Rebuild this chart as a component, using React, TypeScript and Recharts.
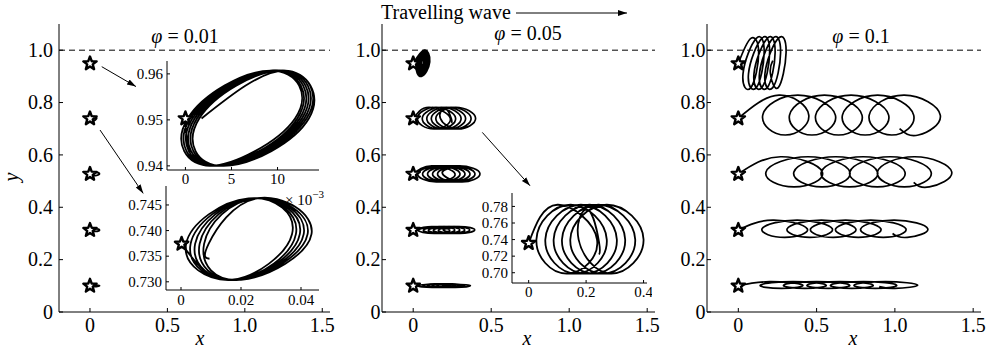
import React from "react";
import { ComposedChart, Line, Scatter, XAxis, YAxis, ReferenceLine } from "recharts";

type Pt = [number, number];

const SERIF = "Liberation Serif";

// tick values
const mainXTicks = [0, 0.5, 1, 1.5];
const mainYTicks = [0, 0.2, 0.4, 0.6, 0.8, 1.0];
const insetAXTicks = [0, 0.005, 0.01];
const insetAYTicks = [0.94, 0.95, 0.96];
const insetBXTicks = [0, 0.02, 0.04];
const insetBYTicks = [0.73, 0.735, 0.74, 0.745];
const insetCXTicks = [0, 0.2, 0.4];
const insetCYTicks = [0.7, 0.72, 0.74, 0.76, 0.78];

// release points (stars)
const startY = [0.949, 0.739, 0.527, 0.313, 0.1];

// phi = 0.01 trajectories
const p1Top: Pt[] = [
  [0, 0.9503], [0.00265, 0.94], [0.0119, 0.9503], [0.00925, 0.9607],
  [0.00025, 0.9503], [0.0029, 0.94], [0.01215, 0.9503], [0.0095, 0.9607],
  [0.0005, 0.9503], [0.00315, 0.94], [0.0124, 0.9503], [0.00975, 0.9607],
  [0.00075, 0.9503], [0.0034, 0.94], [0.01265, 0.9503], [0.01, 0.9607],
  [0.001, 0.9503], [0.00365, 0.94], [0.0129, 0.9503], [0.01025, 0.9607],
  [0.00125, 0.9503], [0.0039, 0.94], [0.01315, 0.9503], [0.0105, 0.9607],
  [0.0015, 0.9503], [0.00415, 0.94], [0.0134, 0.9503], [0.01075, 0.9607],
  [0.00175, 0.9503],
];
const p1Second: Pt[] = [
  [0.0002, 0.7374], [0.017, 0.7304], [0.037, 0.7393], [0.0225, 0.7463],
  [0.0017, 0.7374], [0.0176, 0.7304], [0.0383, 0.7393], [0.0231, 0.7463],
  [0.0032, 0.7374], [0.0182, 0.7304], [0.0396, 0.7393], [0.0237, 0.7463],
  [0.0047, 0.7374], [0.0188, 0.7304], [0.0409, 0.7393], [0.0243, 0.7463],
  [0.0062, 0.7374], [0.0194, 0.7304], [0.0422, 0.7393], [0.0249, 0.7463],
  [0.0077, 0.7374], [0.02, 0.7304], [0.0435, 0.7393], [0.0255, 0.7463],
  [0.0092, 0.7374], [0.0095, 0.7345],
];
const p1Third: Pt[] = [
  [0, 0.527], [0.03, 0.534], [0.06, 0.528], [0.03, 0.521], [0.005, 0.527],
  [0.035, 0.534], [0.062, 0.528], [0.035, 0.521], [0.01, 0.527],
];
const p1Fourth: Pt[] = [
  [0, 0.313], [0.03, 0.318], [0.06, 0.313], [0.03, 0.308], [0.005, 0.313],
  [0.035, 0.318], [0.062, 0.313], [0.035, 0.308], [0.01, 0.313],
];
const p1Fifth: Pt[] = [
  [0, 0.1], [0.03, 0.103], [0.06, 0.1], [0.03, 0.097], [0.005, 0.1],
  [0.035, 0.103], [0.062, 0.1], [0.035, 0.097], [0.01, 0.1],
];

// phi = 0.05
const p2Top: Pt[] = [
  [0, 0.949],
  [0.071, 1.0], [0.106, 0.955], [0.053, 0.9], [0.018, 0.945],
  [0.07, 0.995], [0.1, 0.9545], [0.054, 0.905], [0.024, 0.9455],
  [0.068, 0.99], [0.094, 0.954], [0.056, 0.91], [0.03, 0.946],
  [0.067, 0.985], [0.088, 0.9535], [0.057, 0.915], [0.036, 0.9465],
  [0.066, 0.98], [0.082, 0.953], [0.058, 0.92], [0.042, 0.947],
  [0.065, 0.975], [0.076, 0.9525], [0.059, 0.925], [0.048, 0.9475],
  [0.064, 0.97], [0.071, 0.952], [0.06, 0.93], [0.053, 0.948],
  [0.063, 0.965], [0.067, 0.9515], [0.061, 0.935], [0.057, 0.9485],
];
const p2Second: Pt[] = [
  [0, 0.7356],
  [0.1, 0.782], [0.238, 0.74], [0.132, 0.699], [0.027, 0.74],
  [0.146, 0.782], [0.272, 0.74], [0.165, 0.699], [0.058, 0.74],
  [0.182, 0.782], [0.307, 0.74], [0.197, 0.699], [0.087, 0.74],
  [0.212, 0.782], [0.336, 0.74], [0.226, 0.699], [0.116, 0.74],
  [0.243, 0.782], [0.371, 0.74], [0.258, 0.699], [0.145, 0.74],
  [0.272, 0.782], [0.4, 0.74], [0.287, 0.699], [0.174, 0.74],
  [0.205, 0.776], [0.245, 0.737], [0.245, 0.722],
];
const p2Third: Pt[] = [
  [0, 0.527],
  [0.12, 0.558], [0.268, 0.528], [0.148, 0.497], [0.028, 0.528],
  [0.164, 0.558], [0.3, 0.528], [0.18, 0.497], [0.06, 0.528],
  [0.196, 0.558], [0.332, 0.528], [0.212, 0.497], [0.092, 0.528],
  [0.228, 0.558], [0.364, 0.528], [0.244, 0.497], [0.124, 0.528],
  [0.26, 0.558], [0.396, 0.528], [0.276, 0.497], [0.156, 0.528],
  [0.292, 0.558], [0.428, 0.528], [0.308, 0.497], [0.188, 0.528],
  [0.24, 0.55],
];
const p2Fourth: Pt[] = [
  [0, 0.313],
  [0.12, 0.326], [0.234, 0.313], [0.134, 0.3], [0.034, 0.313],
  [0.166, 0.326], [0.266, 0.313], [0.166, 0.3], [0.066, 0.313],
  [0.198, 0.326], [0.298, 0.313], [0.198, 0.3], [0.098, 0.313],
  [0.23, 0.326], [0.33, 0.313], [0.23, 0.3], [0.13, 0.313],
  [0.262, 0.326], [0.362, 0.313], [0.262, 0.3], [0.162, 0.313],
  [0.294, 0.326], [0.394, 0.313], [0.294, 0.3], [0.194, 0.313],
  [0.24, 0.32],
];
const p2Fifth: Pt[] = [
  [0, 0.1],
  [0.11, 0.106], [0.21, 0.1], [0.12, 0.094], [0.034, 0.1],
  [0.15, 0.106], [0.24, 0.1], [0.15, 0.094], [0.064, 0.1],
  [0.18, 0.106], [0.27, 0.1], [0.18, 0.094], [0.094, 0.1],
  [0.21, 0.106], [0.3, 0.1], [0.21, 0.094], [0.124, 0.1],
  [0.24, 0.106], [0.33, 0.1], [0.24, 0.094], [0.154, 0.1],
  [0.27, 0.106], [0.366, 0.1], [0.27, 0.094], [0.184, 0.1],
];

// phi = 0.1
const p3Top: Pt[] = [
  [0, 0.949],
  [0.08, 1.045], [0.13, 0.99], [0.08, 0.857], [0.03, 0.91],
  [0.115, 1.045], [0.165, 0.99], [0.115, 0.857], [0.065, 0.91],
  [0.15, 1.045], [0.2, 0.99], [0.15, 0.857], [0.1, 0.91],
  [0.185, 1.045], [0.235, 0.99], [0.185, 0.857], [0.135, 0.91],
  [0.22, 1.045], [0.27, 0.99], [0.22, 0.857], [0.17, 0.91],
  [0.255, 1.045], [0.305, 0.99], [0.255, 0.857], [0.205, 0.91],
  [0.22, 0.96],
];
const p3Second: Pt[] = [
  [0, 0.74],
  [0.26, 0.828], [0.45, 0.752], [0.3, 0.676], [0.156, 0.752],
  [0.38, 0.828], [0.62, 0.752], [0.47, 0.676], [0.327, 0.752],
  [0.55, 0.828], [0.79, 0.752], [0.64, 0.676], [0.494, 0.752],
  [0.72, 0.828], [0.96, 0.752], [0.81, 0.676], [0.665, 0.752],
  [0.89, 0.828], [1.12, 0.752], [0.98, 0.676], [0.836, 0.752],
  [1.06, 0.828], [1.29, 0.752], [1.15, 0.676], [1.03, 0.7],
];
const p3Third: Pt[] = [
  [0, 0.527],
  [0.27, 0.593], [0.536, 0.535], [0.356, 0.478], [0.177, 0.535],
  [0.445, 0.593], [0.712, 0.535], [0.534, 0.478], [0.355, 0.535],
  [0.622, 0.593], [0.889, 0.535], [0.71, 0.478], [0.53, 0.535],
  [0.797, 0.593], [1.064, 0.535], [0.888, 0.478], [0.712, 0.535],
  [0.97, 0.593], [1.231, 0.535], [1.06, 0.478], [0.889, 0.535],
  [1.126, 0.593], [1.363, 0.535], [1.22, 0.478], [1.12, 0.495],
];
const p3Fourth: Pt[] = [
  [0, 0.313],
  [0.22, 0.351], [0.44, 0.318], [0.296, 0.285], [0.152, 0.318],
  [0.376, 0.351], [0.6, 0.318], [0.456, 0.285], [0.312, 0.318],
  [0.531, 0.351], [0.75, 0.318], [0.606, 0.285], [0.462, 0.318],
  [0.686, 0.351], [0.91, 0.318], [0.766, 0.285], [0.622, 0.318],
  [0.846, 0.351], [1.07, 0.318], [0.926, 0.285], [0.782, 0.318],
  [0.996, 0.351], [1.21, 0.318], [1.08, 0.285], [0.985, 0.3],
];
const p3Fifth: Pt[] = [
  [0, 0.1],
  [0.2, 0.116], [0.41, 0.103], [0.275, 0.09], [0.141, 0.103],
  [0.35, 0.116], [0.56, 0.103], [0.425, 0.09], [0.29, 0.103],
  [0.5, 0.116], [0.71, 0.103], [0.575, 0.09], [0.44, 0.103],
  [0.65, 0.116], [0.86, 0.103], [0.725, 0.09], [0.59, 0.103],
  [0.8, 0.116], [1.01, 0.103], [0.875, 0.09], [0.74, 0.103],
  [0.94, 0.116], [1.145, 0.103], [1.0, 0.09], [0.9, 0.097],
];

// annotation arrows (data coordinates of each panel)
const p1Arrows: Pt[][] = [
  [[0.076, 0.937], [0.297, 0.861]],
  [[0.065, 0.695], [0.344, 0.453]],
];
const p2Arrows: Pt[][] = [[[0.443, 0.686], [0.749, 0.482]]];

const rows = (p: Pt[]) => p.map(([x, y]) => ({ x, y }));
const mainStars: Pt[] = startY.map((y) => [0, y]);

const fmt1 = (v: number) => (v === 0 ? "0" : v.toFixed(1));

const StarShape = (props: any) => {
  const { cx, cy } = props;
  if (cx == null || cy == null) return null;
  const pts: string[] = [];
  for (let i = 0; i < 10; i++) {
    const r = i % 2 === 0 ? 7 : 2.9;
    const a = -Math.PI / 2 + (i * Math.PI) / 5;
    pts.push(`${cx + r * Math.cos(a)},${cy + r * Math.sin(a)}`);
  }
  return <polygon points={pts.join(" ")} fill="#fff" stroke="#000" strokeWidth={2.4} strokeLinejoin="round" />;
};

const tickText = (fmt: (v: number) => string, size: number, side: "x" | "y") => (props: any) => (
  <text x={props.x} y={props.y} dy={side === "x" ? "0.71em" : "0.34em"}
    textAnchor={side === "x" ? "middle" : "end"}
    style={{ fontFamily: SERIF, fontSize: size }} fill="#000">
    {fmt(props.payload.value)}
  </text>
);

interface PanelProps {
  left: number;
  top: number;
  width: number;
  height: number;
  margin: { top: number; right: number; bottom: number; left: number };
  yWidth: number;
  xHeight: number;
  xDomain: [number, number];
  yDomain: [number, number];
  xTicks: number[];
  yTicks: number[];
  xFmt: (v: number) => string;
  yFmt: (v: number) => string;
  fontSize: number;
  tickLen: number;
  xMargin: number;
  yMargin: number;
  curves: Pt[][];
  lineWidth: number;
  stars?: Pt[];
  arrows?: Pt[][];
  dashed?: boolean;
}

const Panel: React.FC<PanelProps> = (p) => {
  const line = { stroke: "#000", strokeWidth: 1 };
  return (
    <div style={{ position: "absolute", left: p.left, top: p.top, width: p.width, height: p.height }}>
      <ComposedChart width={p.width} height={p.height} margin={p.margin}>
        <XAxis xAxisId="b" type="number" dataKey="x" domain={p.xDomain} allowDataOverflow
          ticks={p.xTicks} interval={0}
          tickSize={-p.tickLen} tickMargin={p.xMargin} height={p.xHeight}
          stroke="#000" axisLine={line} tickLine={line} tick={tickText(p.xFmt, p.fontSize, "x")} />
        <XAxis xAxisId="t" orientation="top" type="number" dataKey="x" domain={p.xDomain} allowDataOverflow
          ticks={p.xTicks} interval={0} tick={false} tickSize={-p.tickLen} height={0}
          stroke="#000" axisLine={line} tickLine={line} />
        <YAxis yAxisId="l" type="number" dataKey="y" domain={p.yDomain} allowDataOverflow
          ticks={p.yTicks} interval={0}
          tickSize={-p.tickLen} tickMargin={p.yMargin} width={p.yWidth}
          stroke="#000" axisLine={line} tickLine={line} tick={tickText(p.yFmt, p.fontSize, "y")} />
        <YAxis yAxisId="r" orientation="right" type="number" dataKey="y" domain={p.yDomain} allowDataOverflow
          ticks={p.yTicks} interval={0} tick={false} tickSize={-p.tickLen} width={0}
          stroke="#000" axisLine={line} tickLine={line} />
        {p.dashed && (
          <ReferenceLine xAxisId="b" yAxisId="l" y={1} stroke="#000" strokeWidth={1} strokeDasharray="6 4" />
        )}
        {p.curves.map((c, i) => (
          <Line key={`c${i}`} xAxisId="b" yAxisId="l" data={rows(c)} dataKey="y" type="natural"
            stroke="#000" strokeWidth={p.lineWidth} dot={false} activeDot={false} isAnimationActive={false} />
        ))}
        {(p.arrows || []).map((a, i) => (
          <Line key={`a${i}`} xAxisId="b" yAxisId="l" data={rows(a)} dataKey="y" type="linear"
            stroke="#000" strokeWidth={1} dot={false} activeDot={false} markerEnd="url(#ah)" isAnimationActive={false} />
        ))}
        {p.stars && (
          <Scatter xAxisId="b" yAxisId="l" data={rows(p.stars)} shape={<StarShape />} isAnimationActive={false} />
        )}
      </ComposedChart>
    </div>
  );
};

const mainCommon = {
  top: 0,
  height: 361,
  yWidth: 42,
  xHeight: 30,
  xDomain: [-0.2, 1.55] as [number, number],
  yDomain: [0, 1.1] as [number, number],
  xTicks: mainXTicks,
  yTicks: mainYTicks,
  xFmt: fmt1,
  yFmt: fmt1,
  fontSize: 20,
  tickLen: 4,
  xMargin: 10,
  yMargin: 5.5,
  lineWidth: 1.7,
  stars: mainStars,
  dashed: true,
};

const insetCommon = {
  xHeight: 18,
  fontSize: 15,
  tickLen: 3,
  lineWidth: 1.8,
  yMargin: 7,
};

export default function App() {
  return (
    <div style={{ position: "absolute", left: 0, top: 0, width: 990, height: 361, background: "#fff", overflow: "hidden", fontFamily: SERIF }}>
      <svg width={990} height={361} style={{ position: "absolute", left: 0, top: 0 }}>
        <text x={285} y={205} style={{ fontFamily: SERIF, fontSize: 15 }} fill="#000">
          × 10<tspan dy={-7} style={{ fontSize: 11 }}>−3</tspan>
        </text>
      </svg>

      <Panel {...mainCommon} left={0} width={340} yWidth={59} yMargin={10}
        margin={{ top: 24, right: 10, bottom: 19, left: 0 }}
        curves={[p1Top, p1Second, p1Third, p1Fourth, p1Fifth]} arrows={p1Arrows} />
      <Panel {...mainCommon} left={340} width={325}
        margin={{ top: 24, right: 10, bottom: 19, left: 0 }}
        curves={[p2Top, p2Second, p2Third, p2Fourth, p2Fifth]} arrows={p2Arrows} />
      <Panel {...mainCommon} left={665} width={325}
        margin={{ top: 24, right: 9, bottom: 19, left: 0 }}
        curves={[p3Top, p3Second, p3Third, p3Fourth, p3Fifth]} />

      <Panel {...insetCommon} left={122} top={56} width={202} height={132} yWidth={45} xMargin={6}
        margin={{ top: 5, right: 5, bottom: 0, left: 0 }}
        xDomain={[-0.002, 0.0145]} yDomain={[0.9391, 0.9628]}
        xTicks={insetAXTicks} yTicks={insetAYTicks}
        xFmt={(v) => String(Math.round(v * 1000))} yFmt={(v) => v.toFixed(2)}
        curves={[p1Top]} stars={[[0, 0.9503]]} />
      <Panel {...insetCommon} left={121} top={181} width={203} height={127} yWidth={45} xMargin={7}
        margin={{ top: 5, right: 5, bottom: 0, left: 0 }}
        xDomain={[-0.005, 0.046]} yDomain={[0.7284, 0.7487]}
        xTicks={insetBXTicks} yTicks={insetBYTicks}
        xFmt={(v) => (v === 0 ? "0" : v.toFixed(2))} yFmt={(v) => v.toFixed(3)}
        curves={[p1Second]} stars={[[0.0002, 0.7374]]} />
      <Panel {...insetCommon} left={466} top={188} width={186} height={113} yWidth={46} xMargin={6}
        margin={{ top: 5, right: 5, bottom: 0, left: 0 }}
        xDomain={[-0.058, 0.412]} yDomain={[0.6876, 0.7962]}
        xTicks={insetCXTicks} yTicks={insetCYTicks}
        xFmt={(v) => (v === 0 ? "0" : v.toFixed(1))} yFmt={(v) => v.toFixed(2)}
        curves={[p2Second]} stars={[[0, 0.7356]]} />

      <svg width={990} height={361} style={{ position: "absolute", left: 0, top: 0, pointerEvents: "none" }}>
        <defs>
          <marker id="ah" viewBox="0 0 10 10" refX={10} refY={5} markerWidth={9} markerHeight={9}
            markerUnits="userSpaceOnUse" orient="auto">
            <path d="M0,1.8 L10,5 L0,8.2 z" fill="#000" />
          </marker>
        </defs>
        <g style={{ fontFamily: SERIF }} fill="#000">
          <text x={185} y={43} style={{ fontSize: 20 }} textAnchor="middle">
            <tspan style={{ fontStyle: "italic" }}>φ</tspan> = 0.01
          </text>
          <text x={528} y={40} style={{ fontSize: 20 }} textAnchor="middle">
            <tspan style={{ fontStyle: "italic" }}>φ</tspan> = 0.05
          </text>
          <text x={861} y={43} style={{ fontSize: 20 }} textAnchor="middle">
            <tspan style={{ fontStyle: "italic" }}>φ</tspan> = 0.1
          </text>
          <text x={200} y={345} style={{ fontSize: 20, fontStyle: "italic" }} textAnchor="middle">x</text>
          <text x={527} y={345} style={{ fontSize: 20, fontStyle: "italic" }} textAnchor="middle">x</text>
          <text x={853} y={345} style={{ fontSize: 20, fontStyle: "italic" }} textAnchor="middle">x</text>
          <text transform="translate(18,177) rotate(-90)" style={{ fontSize: 20, fontStyle: "italic" }} textAnchor="middle">y</text>
          <text x={381} y={18.5} style={{ fontSize: 20 }}>Travelling wave</text>
        </g>
        <line x1={516} y1={13} x2={627} y2={13} stroke="#000" strokeWidth={1} markerEnd="url(#ah)" />
      </svg>
    </div>
  );
}
